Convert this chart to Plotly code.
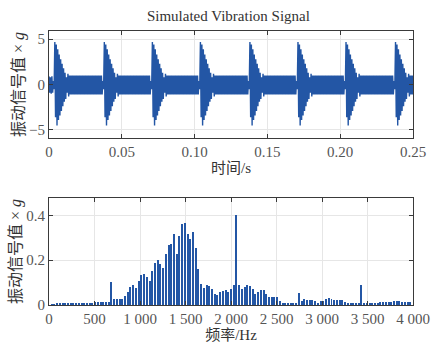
import numpy as np
import plotly.graph_objects as go
from plotly.subplots import make_subplots

# ---------------- data ----------------
# time signal: upper / lower envelope read every 1 ms (t = 0 ... 0.25 s)
sig_upper = [
    0.9, 0.8, 0.9, 0.4, 4.7, 4.4, 3.9, 3.3, 2.8, 2.3,
    1.8, 1.3, 0.8, 1.2, 1.0, 1.0, 1.0, 1.0, 1.0, 1.0,
    1.0, 1.0, 1.0, 1.0, 1.0, 1.0, 1.0, 1.0, 1.0, 1.0,
    1.0, 1.0, 1.0, 1.0, 1.0, 1.0, 1.0, 0.4, 4.7, 4.4,
    3.9, 3.3, 2.8, 2.3, 1.8, 1.3, 0.8, 1.2, 1.0, 1.0,
    1.0, 1.0, 1.0, 1.0, 1.0, 1.0, 1.0, 1.0, 1.0, 1.0,
    1.0, 1.0, 1.0, 1.0, 1.0, 1.0, 1.0, 1.0, 1.0, 1.0,
    0.4, 4.7, 4.4, 3.9, 3.3, 2.8, 2.3, 1.8, 1.3, 0.8,
    1.2, 1.0, 1.0, 1.0, 1.0, 1.0, 1.0, 1.0, 1.0, 1.0,
    1.0, 1.0, 1.0, 1.0, 1.0, 1.0, 1.0, 1.0, 1.0, 1.0,
    1.0, 1.0, 1.0, 0.4, 4.7, 4.4, 3.9, 3.3, 2.8, 2.3,
    1.8, 1.3, 0.8, 1.2, 1.0, 1.0, 1.0, 1.0, 1.0, 1.0,
    1.0, 1.0, 1.0, 1.0, 1.0, 1.0, 1.0, 1.0, 1.0, 1.0,
    1.0, 1.0, 1.0, 1.0, 1.0, 1.0, 1.0, 0.4, 4.7, 4.4,
    3.9, 3.3, 2.8, 2.3, 1.8, 1.3, 0.8, 1.2, 1.0, 1.0,
    1.0, 1.0, 1.0, 1.0, 1.0, 1.0, 1.0, 1.0, 1.0, 1.0,
    1.0, 1.0, 1.0, 1.0, 1.0, 1.0, 1.0, 1.0, 1.0, 1.0,
    0.4, 4.7, 4.4, 3.9, 3.3, 2.8, 2.3, 1.8, 1.3, 0.8,
    1.2, 1.0, 1.0, 1.0, 1.0, 1.0, 1.0, 1.0, 1.0, 1.0,
    1.0, 1.0, 1.0, 1.0, 1.0, 1.0, 1.0, 1.0, 1.0, 1.0,
    1.0, 1.0, 1.0, 0.4, 4.7, 4.4, 3.9, 3.3, 2.8, 2.3,
    1.8, 1.3, 0.8, 1.2, 1.0, 1.0, 1.0, 1.0, 1.0, 1.0,
    1.0, 1.0, 1.0, 1.0, 1.0, 1.0, 1.0, 1.0, 1.0, 1.0,
    1.0, 1.0, 1.0, 1.0, 1.0, 1.0, 1.0, 0.4, 4.7, 4.4,
    3.9, 3.3, 2.8, 2.3, 1.8, 1.3, 0.8, 1.2, 1.0, 1.0,
    1.0,
]
sig_lower = [
    -0.9, -1.0, -0.9, -0.5, -3.6, -4.5, -3.9, -3.4, -2.9, -2.4,
    -1.9, -1.6, -0.9, -1.3, -1.1, -1.1, -1.1, -1.1, -1.1, -1.1,
    -1.1, -1.1, -1.1, -1.1, -1.1, -1.1, -1.1, -1.1, -1.1, -1.1,
    -1.1, -1.1, -1.1, -1.1, -1.1, -1.1, -1.1, -0.5, -3.6, -4.5,
    -3.9, -3.4, -2.9, -2.4, -1.9, -1.6, -0.9, -1.3, -1.1, -1.1,
    -1.1, -1.1, -1.1, -1.1, -1.1, -1.1, -1.1, -1.1, -1.1, -1.1,
    -1.1, -1.1, -1.1, -1.1, -1.1, -1.1, -1.1, -1.1, -1.1, -1.1,
    -0.5, -3.6, -4.5, -3.9, -3.4, -2.9, -2.4, -1.9, -1.6, -0.9,
    -1.3, -1.1, -1.1, -1.1, -1.1, -1.1, -1.1, -1.1, -1.1, -1.1,
    -1.1, -1.1, -1.1, -1.1, -1.1, -1.1, -1.1, -1.1, -1.1, -1.1,
    -1.1, -1.1, -1.1, -0.5, -3.6, -4.5, -3.9, -3.4, -2.9, -2.4,
    -1.9, -1.6, -0.9, -1.3, -1.1, -1.1, -1.1, -1.1, -1.1, -1.1,
    -1.1, -1.1, -1.1, -1.1, -1.1, -1.1, -1.1, -1.1, -1.1, -1.1,
    -1.1, -1.1, -1.1, -1.1, -1.1, -1.1, -1.1, -0.5, -3.6, -4.5,
    -3.9, -3.4, -2.9, -2.4, -1.9, -1.6, -0.9, -1.3, -1.1, -1.1,
    -1.1, -1.1, -1.1, -1.1, -1.1, -1.1, -1.1, -1.1, -1.1, -1.1,
    -1.1, -1.1, -1.1, -1.1, -1.1, -1.1, -1.1, -1.1, -1.1, -1.1,
    -0.5, -3.6, -4.5, -3.9, -3.4, -2.9, -2.4, -1.9, -1.6, -0.9,
    -1.3, -1.1, -1.1, -1.1, -1.1, -1.1, -1.1, -1.1, -1.1, -1.1,
    -1.1, -1.1, -1.1, -1.1, -1.1, -1.1, -1.1, -1.1, -1.1, -1.1,
    -1.1, -1.1, -1.1, -0.5, -3.6, -4.5, -3.9, -3.4, -2.9, -2.4,
    -1.9, -1.6, -0.9, -1.3, -1.1, -1.1, -1.1, -1.1, -1.1, -1.1,
    -1.1, -1.1, -1.1, -1.1, -1.1, -1.1, -1.1, -1.1, -1.1, -1.1,
    -1.1, -1.1, -1.1, -1.1, -1.1, -1.1, -1.1, -0.5, -3.6, -4.5,
    -3.9, -3.4, -2.9, -2.4, -1.9, -1.6, -0.9, -1.3, -1.1, -1.1,
    -1.1,
]
sample_step_s = 0.001

# spectrum: harmonic lines (spacing ~29.85 Hz), amplitudes in g
harmonic_spacing_hz = 29.85
spec_amp = [
    0.003, 0.003, 0.004, 0.004, 0.005, 0.005, 0.005, 0.006, 0.006, 0.007,
    0.007, 0.008, 0.008, 0.009, 0.009, 0.010, 0.011, 0.012, 0.013, 0.014,
    0.015, 0.014, 0.104, 0.024, 0.028, 0.028, 0.025, 0.040, 0.059, 0.081,
    0.089, 0.076, 0.108, 0.132, 0.139, 0.126, 0.108, 0.153, 0.187, 0.200,
    0.184, 0.163, 0.225, 0.265, 0.273, 0.317, 0.227, 0.308, 0.359, 0.364,
    0.317, 0.295, 0.324, 0.252, 0.160, 0.095, 0.077, 0.087, 0.084, 0.071,
    0.049, 0.044, 0.056, 0.064, 0.065, 0.058, 0.070, 0.089, 0.400, 0.090,
    0.071, 0.080, 0.090, 0.086, 0.070, 0.050, 0.059, 0.068, 0.065, 0.049,
    0.036, 0.037, 0.037, 0.033, 0.019, 0.007, 0.006, 0.009, 0.009, 0.009,
    0.010, 0.055, 0.019, 0.024, 0.021, 0.021, 0.021, 0.018, 0.010, 0.019,
    0.019, 0.028, 0.031, 0.028, 0.022, 0.021, 0.022, 0.022, 0.015, 0.009,
    0.007, 0.006, 0.006, 0.006, 0.090, 0.006, 0.006, 0.007, 0.009, 0.009,
    0.010, 0.012, 0.015, 0.013, 0.015, 0.013, 0.019, 0.019, 0.016, 0.013,
    0.013, 0.013, 0.013,
]

time_ticks = [0, 0.05, 0.10, 0.15, 0.20, 0.25]
time_ticktext = ["0", "0.05", "0.10", "0.15", "0.20", "0.25"]
amp_ticks = [-5, 0, 5]
amp_ticktext = ["\u22125", "0", "5"]
freq_ticks = [0, 500, 1000, 1500, 2000, 2500, 3000, 3500, 4000]
freq_ticktext = ["0", "500", "1 000", "1 500", "2 000", "2 500", "3 000", "3 500", "4 000"]
spec_ticks = [0, 0.2, 0.4]
spec_ticktext = ["0", "0.2", "0.4"]

# ---------------- build ----------------
BLUE = "#2356a5"
SERIF = "Liberation Serif, Noto Sans CJK SC, serif"
AXC = "#3a3a3a"
TXC = "#555555"

t = np.arange(len(sig_upper)) * sample_step_s
xs, ys = [], []
for ti, up, lo in zip(t, sig_upper, sig_lower):
    xs += [ti, ti + sample_step_s / 2]
    ys += [up, lo]

freqs = harmonic_spacing_hz * np.arange(1, len(spec_amp) + 1)

fig = make_subplots(rows=2, cols=1, vertical_spacing=0.0)
fig.add_trace(go.Scatter(x=xs, y=ys, mode="lines",
                         line=dict(color=BLUE, width=1.4), showlegend=False),
              row=1, col=1)
fig.add_trace(go.Bar(x=freqs, y=spec_amp, width=11, marker=dict(color=BLUE, line=dict(width=0)),
                     showlegend=False),
              row=2, col=1)

axis_common = dict(showline=True, linecolor=AXC, linewidth=1, mirror="ticks",
                   ticks="inside", ticklen=4, tickcolor=AXC, automargin=False,
                   showgrid=True, gridcolor="#e6e6e6", gridwidth=1, zeroline=False,
                   tickfont=dict(family=SERIF, size=15, color=TXC))

fig.update_xaxes(**axis_common)
fig.update_yaxes(**axis_common)

ytitle = dict(text="振动信号值 × <i>g</i>", font=dict(family=SERIF, size=16, color="#333"), standoff=0)

fig.update_layout(
    xaxis=dict(domain=[0, 1], range=[0, 0.25], tickvals=time_ticks, ticktext=time_ticktext,
               title=dict(text="时间/s", font=dict(family=SERIF, size=15, color="#333"), standoff=3)),
    yaxis=dict(domain=[0.609, 1.0], range=[-5.9, 5.9], tickvals=amp_ticks, ticktext=amp_ticktext,
               title=ytitle),
    xaxis2=dict(domain=[0, 1], range=[0, 4000], tickvals=freq_ticks, ticktext=freq_ticktext,
                title=dict(text="频率/Hz", font=dict(family=SERIF, size=15, color="#333"), standoff=3)),
    yaxis2=dict(domain=[0.0, 0.39], range=[0, 0.477], tickvals=spec_ticks, ticktext=spec_ticktext,
                title=ytitle),
    title=dict(text="Simulated Vibration Signal", x=0.53, xanchor="center", y=0.955, yanchor="middle",
               font=dict(family=SERIF, size=15, color="#333")),
    width=431, height=345,
    margin=dict(l=49, r=18, t=31, b=40),
    plot_bgcolor="white", paper_bgcolor="white",
    bargap=0,
)

fig.write_html("out.html")
